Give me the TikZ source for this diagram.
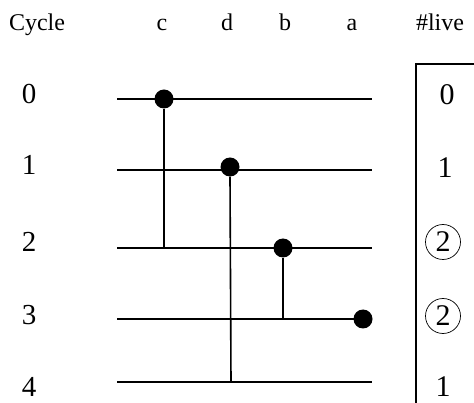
\documentclass[tikz,border=0pt]{standalone}
\usepackage{fontspec}
\setmainfont{Liberation Serif}

\tikzset{
    wire/.style={line width=1.6pt},
    hit/.style={circle, fill=black, inner sep=0pt, minimum size=19pt},
    head/.style={anchor=base, inner sep=0pt, font=\fontsize{24}{24}\selectfont},
    num/.style={inner sep=0pt, font=\fontsize{29}{29}\selectfont},
    cnt/.style={inner sep=0pt, font=\fontsize{30}{30}\selectfont},
    peak/.style={circle, draw, line width=0.7pt, inner sep=0pt, minimum size=35pt, font=\fontsize{30}{30}\selectfont},
}

\begin{document}
\begin{tikzpicture}[x=1pt, y=-1pt]
    \useasboundingbox (0,0) rectangle (474,403);

    % header
    \node[head] (cycle) at (37,31) {Cycle};
    \node[head] (hc) at (162,31) {c};
    \node[head] (hd) at (227,31) {d};
    \node[head] (hb) at (285,31) {b};
    \node[head] (ha) at (352,31) {a};
    \node[head] (live) at (440,31) {\#live};

    % cycle numbers
    \node[num] (n0) at (29,94) {0};
    \node[num] (n1) at (29,165) {1};
    \node[num] (n2) at (29,242) {2};
    \node[num] (n3) at (29,315) {3};
    \node[num] (n4) at (29,387) {4};

    % wires
    \coordinate (l0) at (117,99);  \coordinate (r0) at (372,99);
    \coordinate (l1) at (117,170); \coordinate (r1) at (372,170);
    \coordinate (l2) at (117,248); \coordinate (r2) at (372,248);
    \coordinate (l3) at (117,319); \coordinate (r3) at (363,319);
    \coordinate (l4) at (117,382); \coordinate (r4) at (372,382);
    \draw[wire] (l0) -- (r0);
    \draw[wire] (l1) -- (r1);
    \draw[wire] (l2) -- (r2);
    \draw[wire] (l3) -- (r3);
    \draw[wire] (l4) -- (r4);

    % lifetimes
    \coordinate (c2) at (164,248);
    \coordinate (d4) at (231,382);
    \coordinate (b3) at (283,319);
    \node[hit] (c0) at (164,99) {};
    \node[hit] (d1) at (230,167) {};
    \node[hit] (b2) at (283,248) {};
    \node[hit] (a3) at (363,319) {};
    \draw[wire] (c0) -- (c2);
    \draw[wire] (d1.south) -- (d4);
    \draw[wire] (b2) -- (b3);

    % live counts
    \coordinate (boxtl) at (416,64);
    \coordinate (boxbl) at (416,403);
    \coordinate (boxtr) at (474,64);
    \draw[line width=1.8pt] (boxbl) -- (boxtl) -- (boxtr);
    \node[cnt] (v0) at (447,95) {0};
    \node[cnt] (v1) at (445,168) {1};
    \node[peak] (v2) at (443,242) {2};
    \node[peak] (v3) at (443,316) {2};
    \node[cnt] (v4) at (443,387) {1};
\end{tikzpicture}
\end{document}
